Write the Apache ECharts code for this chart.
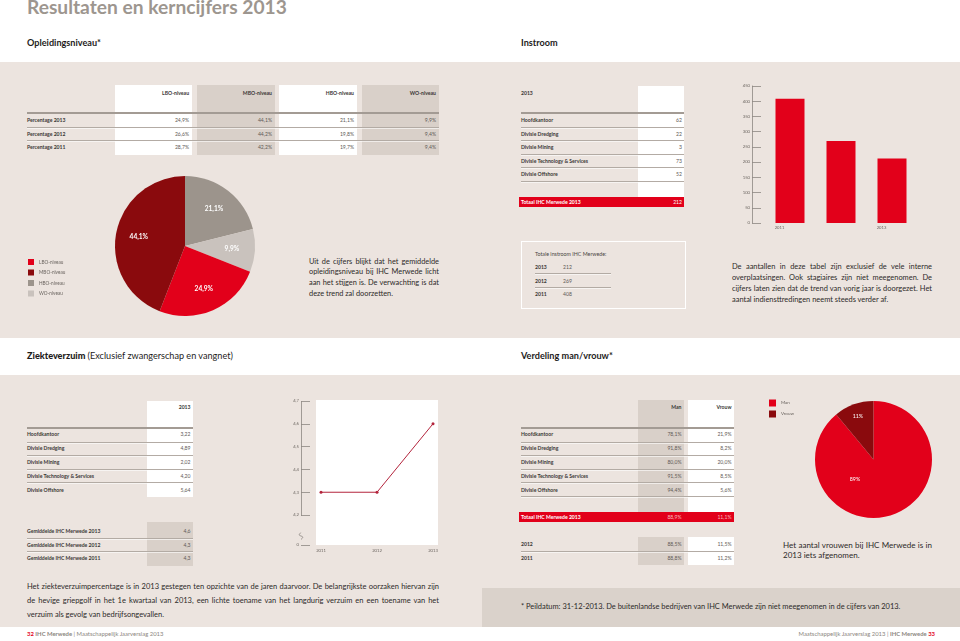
<!DOCTYPE html>
<html>
<head>
<meta charset="utf-8">
<script src="https://cdn.jsdelivr.net/npm/echarts@6.0.0/dist/echarts.min.js"></script>
<style>
  html, body { margin: 0; padding: 0; background: #fff; }
  #page { position: relative; width: 960px; height: 641px; overflow: hidden; font-family: Lato, sans-serif; color: #333; }
  .b { position: absolute; }
  .t { position: absolute; white-space: nowrap; }
  #chart { position: absolute; left: 0; top: 0; width: 960px; height: 641px; z-index: 5; }
</style>
</head>
<body>
<div id="page"><div id="chart"></div></div>
<script>
// ---------- data ----------
const niveaus = ['LBO-niveau', 'MBO-niveau', 'HBO-niveau', 'WO-niveau'];
const percentageRijen = ['Percentage 2013', 'Percentage 2012', 'Percentage 2011'];
const niveau2013 = [24.9, 44.1, 21.1, 9.9];
const niveau2012 = [26.6, 44.2, 19.8, 9.4];
const niveau2011 = [28.7, 42.2, 19.7, 9.4];

const divisies = ['Hoofdkantoor', 'Divisie Dredging', 'Divisie Mining', 'Divisie Technology & Services', 'Divisie Offshore'];
const instroomDivisie = [62, 22, 3, 73, 52];
const instroomTotaal = 212;
const instroomJaren = ['2011', '2012', '2013'];
const instroomAantal = [408, 269, 212];

const verzuimDivisie = [3.22, 4.89, 2.02, 4.20, 5.64];
const gemiddeldeRijen = ['Gemiddelde IHC Merwede 2013', 'Gemiddelde IHC Merwede 2012', 'Gemiddelde IHC Merwede 2011'];
const gemiddeldeVerzuim = [4.6, 4.3, 4.3];
const verzuimJaren = ['2011', '2012', '2013'];
const verzuimPerJaar = [4.3, 4.3, 4.6];

const manDivisie = [78.1, 91.8, 80.0, 91.5, 94.4];
const vrouwDivisie = [21.9, 8.2, 20.0, 8.5, 5.6];
const totaalMan = 88.9;
const totaalVrouw = 11.1;
const eerdereJaren = ['2012', '2011'];
const manEerder = [88.5, 88.8];
const vrouwEerder = [11.5, 11.2];
const geslacht = ['Man', 'Vrouw'];
const geslachtPct = [89, 11];

// ---------- colours ----------
const RED = '#e2001a', DARK = '#8a0a0d', GRAY = '#9c948c', LIGHT = '#c9c2bd';
const BEIGE = '#ece4df', COL = '#d9d0c9', AX = '#8d8781', TXT = '#6a645f', VAL = '#5e5955';

const page = document.getElementById('page');
const nr = (v, d) => v.toFixed(d).replace('.', ',');

function el(cls, parent) {
  const d = document.createElement('div');
  if (cls) d.className = cls;
  (parent || page).appendChild(d);
  return d;
}
function box(x1, y1, x2, y2, bg, extra) {
  const d = el('b');
  Object.assign(d.style, { left: x1 + 'px', top: y1 + 'px', width: (x2 - x1) + 'px', height: (y2 - y1) + 'px', background: bg || 'transparent' });
  if (extra) Object.assign(d.style, extra);
  return d;
}
function rule(x1, x2, y, head) {
  if (head) box(x1, y - 1, x2, y + 0.6, '#a39b94');
  else { box(x1, y - 0.5, x2, y + 0.5, '#b3aba4'); box(x1, y + 0.5, x2, y + 1.2, 'rgba(255,255,255,0.6)'); }
}
function t(x, y, s, o) {
  o = o || {};
  const d = el('t');
  if (o.html) d.innerHTML = s; else d.textContent = s;
  const fs = o.fs || 5.1;
  Object.assign(d.style, {
    top: (y - 5) + 'px', height: '10px', lineHeight: '10px', fontSize: fs + 'px',
    fontWeight: o.b ? '700' : '400', color: o.c || (o.b ? '#3a3735' : VAL)
  });
  if (o.r) { d.style.left = (x - 400) + 'px'; d.style.width = '400px'; d.style.textAlign = 'right'; }
  else d.style.left = x + 'px';
  return d;
}
const meas = el('t');
meas.style.cssText = 'position:absolute;visibility:hidden;white-space:nowrap;left:-2000px;top:0;font-family:Lato';
function natW(s, fs, w) {
  meas.style.fontSize = fs + 'px'; meas.style.fontWeight = w || 400; meas.textContent = s;
  return meas.getBoundingClientRect().width;
}
function para(x, y, w, lh, lines, fs, lastJust) {
  let size = fs;
  lines.forEach((l, i) => {
    const nw = natW(l, fs);
    if ((i < lines.length - 1 || lastJust || nw > w) && nw > w * 0.985) size = Math.min(size, fs * w * 0.985 / nw);
  });
  const p = el('t');
  Object.assign(p.style, { left: x + 'px', top: (y - lh / 2) + 'px', width: w + 'px', fontSize: size + 'px', lineHeight: lh + 'px', whiteSpace: 'normal', color: '#2c2a29' });
  lines.forEach((l, i) => {
    const d = el('', p);
    d.textContent = l;
    d.style.textAlign = 'justify';
    d.style.textAlignLast = (i < lines.length - 1 || lastJust) ? 'justify' : 'left';
  });
}

// ---------- backgrounds ----------
box(0, 62, 960, 338, BEIGE);
box(0, 375, 960, 627, BEIGE);
box(482, 588, 960, 627, '#dad2cb');

// ---------- headings ----------
const titleTxt = 'Resultaten en kerncijfers 2013';
const tfs = 19.5 * 260 / natW(titleTxt, 19.5, 700);
const title = t(27, 7, titleTxt, { b: true, fs: tfs, c: '#9d968f' });
title.style.top = '-5px'; title.style.height = '24px'; title.style.lineHeight = '24px';
const hfs = 9.3 * 74 / natW('Opleidingsniveau*', 9.3, 700);
t(27, 43, 'Opleidingsniveau*', { b: true, fs: hfs, c: '#1e1c1b' });
t(521, 43, 'Instroom', { b: true, fs: hfs, c: '#1e1c1b' });
t(27, 356, '<b>Ziekteverzuim</b> <span style="font-weight:400">(Exclusief zwangerschap en vangnet)</span>', { html: true, b: true, fs: hfs, c: '#1e1c1b' });
t(521, 356, 'Verdeling man/vrouw*', { b: true, fs: hfs, c: '#1e1c1b' });

// ---------- opleidingsniveau table ----------
const oplCols = [[115, 192], [197, 275], [279, 357], [362, 439]];
oplCols.forEach((c, i) => box(c[0], 85, c[1], 155, i % 2 ? COL : '#fff'));
rule(27, 439, 113, true); rule(27, 439, 127); rule(27, 439, 140);
niveaus.forEach((n, i) => t(oplCols[i][1] - 3, 93, n, { b: true, r: true }));
[niveau2013, niveau2012, niveau2011].forEach((row, r) => {
  const y = [120, 133.5, 147][r];
  t(27, y, percentageRijen[r], { b: true });
  row.forEach((v, i) => t(oplCols[i][1] - 3, y, nr(v, 1) + '%', { r: true }));
});
para(309, 262, 130, 10.7, [
  'Uit de cijfers blijkt dat het gemiddelde',
  'opleidingsniveau bij IHC Merwede licht',
  'aan het stijgen is. De verwachting is dat',
  'deze trend zal doorzetten.'
], 8);

// ---------- instroom table ----------
const divY = [120, 133.5, 147, 161, 174];
const divRules = [127, 140, 154, 167, 181];
box(638, 86, 684, 197, '#fff');
t(521, 93, '2013', { b: true });
rule(521, 684, 113, true);
divRules.forEach(y => rule(521, 684, y));
divisies.forEach((d, i) => { t(521, divY[i], d, { b: true }); t(682, divY[i], String(instroomDivisie[i]), { r: true }); });
box(519, 197, 684, 207, RED);
t(521, 202, 'Totaal IHC Merwede 2013', { b: true, c: '#fff' });
t(682, 202, String(instroomTotaal), { r: true, c: '#fff' });

box(521, 241, 686, 309, 'transparent', { border: '1px solid #fff', boxSizing: 'border-box' });
t(535, 254, 'Totale instroom IHC Merwede:', { fs: 5.3, c: '#4a4643' });
[2, 1, 0].forEach((k, i) => {
  const y = [267, 281, 294][i];
  t(535, y, instroomJaren[k], { b: true });
  t(563, y, String(instroomAantal[k]));
});
rule(535, 611, 273); rule(535, 611, 287);
para(732, 266, 200, 11, [
  'De aantallen in deze tabel zijn exclusief de vele interne',
  'overplaatsingen. Ook stagiaires zijn niet meegenomen. De',
  'cijfers laten zien dat de trend van vorig jaar is doorgezet. Het',
  'aantal indiensttredingen neemt steeds verder af.'
], 8);

// ---------- ziekteverzuim tables ----------
const zY = [434, 448, 462, 476, 489.5];
box(147, 401, 193, 497, '#fff');
t(190.5, 407, '2013', { b: true, r: true });
rule(27, 193, 428, true);
[442, 455, 469, 482].forEach(y => rule(27, 193, y));
divisies.forEach((d, i) => { t(27, zY[i], d, { b: true }); t(190.5, zY[i], nr(verzuimDivisie[i], 2), { r: true }); });
box(147, 522, 193, 566, COL);
rule(27, 193, 538); rule(27, 193, 551);
gemiddeldeRijen.forEach((g, i) => {
  const y = [531, 545, 558][i];
  t(27, y, g, { b: true });
  t(190.5, y, nr(gemiddeldeVerzuim[i], 1), { r: true });
});
box(316, 400, 438, 545, '#fff');
para(27, 587, 412, 14.2, [
  'Het ziekteverzuimpercentage is in 2013 gestegen ten opzichte van de jaren daarvoor. De belangrijkste oorzaken hiervan zijn',
  'de hevige griepgolf in het 1e kwartaal van 2013, een lichte toename van het langdurig verzuim en een toename van het',
  'verzuim als gevolg van bedrijfsongevallen.'
], 8.5);

// ---------- man / vrouw tables ----------
box(638, 400, 684, 512, COL);
box(688, 400, 734, 512, '#fff');
t(681.5, 407, 'Man', { b: true, r: true });
t(731.5, 407, 'Vrouw', { b: true, r: true });
rule(521, 734, 428, true);
[442, 455, 469, 482, 496].forEach(y => rule(521, 734, y));
divisies.forEach((d, i) => {
  t(521, zY[i], d, { b: true });
  t(681.5, zY[i], nr(manDivisie[i], 1) + '%', { r: true });
  t(731.5, zY[i], nr(vrouwDivisie[i], 1) + '%', { r: true });
});
box(519, 512, 734, 521.5, RED);
t(521, 517, 'Totaal IHC Merwede 2013', { b: true, c: '#fff' });
t(681.5, 517, nr(totaalMan, 1) + '%', { r: true, c: '#f6b9bd' });
t(731.5, 517, nr(totaalVrouw, 1) + '%', { r: true, c: '#f6b9bd' });
box(638, 537, 684, 565, COL);
box(688, 537, 734, 565, '#fff');
rule(521, 734, 551);
eerdereJaren.forEach((j, i) => {
  const y = [544, 557.5][i];
  t(521, y, j, { b: true });
  t(681.5, y, nr(manEerder[i], 1) + '%', { r: true });
  t(731.5, y, nr(vrouwEerder[i], 1) + '%', { r: true });
});
para(783, 545, 149, 10.3, [
  'Het aantal vrouwen bij IHC Merwede is in',
  '2013 iets afgenomen.'
], 8.4);

// ---------- footnote & footer ----------
const fn = '* Peildatum: 31-12-2013. De buitenlandse bedrijven van IHC Merwede zijn niet meegenomen in de cijfers van 2013.';
t(521, 607, fn, { fs: 8 * 380 / natW(fn, 8), c: '#2c2a29' });
t(27, 634, '<b style="color:#e2001a">32</b> <b>IHC Merwede</b> | Maatschappelijk Jaarverslag 2013', { html: true, fs: 5.9, c: '#8c8680' });
t(935, 634, 'Maatschappelijk Jaarverslag 2013 | <b>IHC Merwede</b> <b style="color:#e2001a">33</b>', { html: true, r: true, fs: 5.9, c: '#8c8680' });

// ---------- charts ----------
const niveauKleur = [RED, DARK, GRAY, LIGHT];
const pieOrder = [2, 3, 0, 1]; // HBO, WO, LBO, MBO clockwise from the top
const niveauPie = pieOrder.map(i => ({ name: niveaus[i], value: niveau2013[i], itemStyle: { color: niveauKleur[i] } }));
const geslachtKleur = [RED, DARK];
const geslachtPie = geslacht.map((g, i) => ({ name: g, value: geslachtPct[i], itemStyle: { color: geslachtKleur[i] } }));
// invisible copies of the slices that only carry labels (shown for the indices given)
const labelOnly = (d, show) => d.map((x, i) => ({
  name: x.name, value: x.value, itemStyle: { color: 'rgba(0,0,0,0)' }, label: { show: show.indexOf(i) >= 0 }
}));

const legendBase = {
  orient: 'vertical', icon: 'rect', padding: 0, selectedMode: false,
  textStyle: { fontSize: 4.7, color: TXT }
};

function buildOption(useBreak) {
  const lineY = {
    gridIndex: 1, type: 'value', offset: 20,
    axisLine: { show: true, lineStyle: { color: AX, width: 0.8 } },
    axisTick: { show: true, inside: true, length: 9, lineStyle: { color: AX, width: 0.8 } },
    splitLine: { show: false },
    axisLabel: { fontSize: 4.2, color: TXT, margin: 2 }
  };
  if (useBreak) {
    Object.assign(lineY, {
      min: 0, max: 4.7, interval: 0.1,
      breaks: [{ start: 0, end: 4.2, gap: '20.8%' }],
      breakArea: { show: false }
    });
    lineY.axisLabel.formatter = v => (v > 0.05 && v < 4.15 ? '' : (v < 0.05 ? '0' : nr(v, 1)));
  } else {
    Object.assign(lineY, { min: 4.1, max: 4.7, interval: 0.1 });
    lineY.axisLabel.formatter = v => (v < 4.15 ? '0' : nr(v, 1));
  }
  const gLabel = { position: 'inside', color: '#fff', fontSize: 5.3, formatter: p => p.value + '%' };
  return {
    animation: false,
    textStyle: { fontFamily: 'Lato' },
    legend: [
      Object.assign({}, legendBase, { data: niveaus, left: 28, top: 259, itemWidth: 6, itemHeight: 6, itemGap: 4.5 }),
      Object.assign({}, legendBase, { data: geslacht, left: 769, top: 399.5, itemWidth: 7, itemHeight: 7, itemGap: 4, textStyle: { fontSize: 4.5, color: TXT } })
    ],
    grid: [
      { left: 764.5, top: 86, width: 153, height: 137 },
      { left: 321, top: 401, width: 112, height: 144 }
    ],
    xAxis: [
      {
        gridIndex: 0, type: 'category', data: instroomJaren,
        axisLine: { show: false }, axisTick: { show: false },
        axisLabel: {
          margin: 3, formatter: v => '{a|' + v + '}{s| }',
          rich: { a: { fontSize: 4.2, color: TXT }, s: { width: 21, fontSize: 4.2 } }
        }
      },
      {
        gridIndex: 1, type: 'category', data: verzuimJaren, boundaryGap: false,
        axisLine: { show: false }, axisTick: { show: false },
        axisLabel: { fontSize: 4.2, color: TXT, margin: 4 }
      }
    ],
    yAxis: [
      {
        gridIndex: 0, type: 'value', min: 0, max: 450, interval: 50, offset: 12.5,
        axisLine: { show: true, lineStyle: { color: AX, width: 0.8 } },
        axisTick: { show: true, inside: true, length: 9, lineStyle: { color: AX, width: 0.8 } },
        splitLine: { show: false },
        axisLabel: { fontSize: 4.2, color: TXT, margin: 2 }
      },
      lineY
    ],
    series: [
      { type: 'bar', xAxisIndex: 0, yAxisIndex: 0, data: instroomAantal, barWidth: 29, itemStyle: { color: RED }, silent: true },
      {
        type: 'line', xAxisIndex: 1, yAxisIndex: 1, data: verzuimPerJaar, symbol: 'circle', symbolSize: 3,
        lineStyle: { color: '#b3243c', width: 1 }, itemStyle: { color: '#b3243c' }, silent: true
      },
      {
        type: 'pie', center: [185, 246], radius: [0, 70], startAngle: 90, clockwise: true,
        data: niveauPie, label: { show: false }, labelLine: { show: false }, silent: true
      },
      {
        type: 'pie', center: [873.5, 459.5], radius: [0, 58.5], startAngle: 90, clockwise: true,
        data: geslachtPie, label: { show: false }, labelLine: { show: false }, silent: true
      },
      {
        type: 'pie', center: [185, 246], radius: [0, 88], startAngle: 90, clockwise: true,
        data: labelOnly(niveauPie, [0, 1, 2, 3]), silent: true, labelLine: { show: false },
        label: { position: 'inside', color: '#fff', fontWeight: 'bold', fontSize: 6.6, formatter: p => nr(p.value, 1) + '%' }
      },
      {
        type: 'pie', center: [873.5, 459.5], radius: [0, 86], startAngle: 90, clockwise: true,
        data: labelOnly(geslachtPie, [1]), silent: true, labelLine: { show: false }, label: gLabel
      },
      {
        // the 89% label sits lower left in the original, so this copy is turned
        type: 'pie', center: [873.5, 459.5], radius: [0, 48], startAngle: 26.9, clockwise: true,
        data: labelOnly(geslachtPie, [0]), silent: true, labelLine: { show: false }, label: gLabel
      }
    ]
  };
}

let chart = echarts.init(document.getElementById('chart'), null, { renderer: 'canvas' });
let broken = true;
try {
  chart.setOption(buildOption(true));
} catch (e) {
  broken = false;
  chart.dispose();
  chart = echarts.init(document.getElementById('chart'), null, { renderer: 'canvas' });
  chart.setOption(buildOption(false));
}

// small break mark on the verzuim axis, placed from the axis scale
const yTop = chart.convertToPixel({ yAxisIndex: 1 }, 4.2);
const yBot = chart.convertToPixel({ yAxisIndex: 1 }, broken ? 0 : 4.1);
const axX = 301;
const ym = yBot - (yBot - yTop) * 0.3;
chart.setOption({
  graphic: [
    { type: 'rect', shape: { x: axX - 2, y: ym - 3, width: 4, height: 6 }, style: { fill: BEIGE }, silent: true, z: 50 },
    {
      type: 'polyline', silent: true, z: 51,
      shape: { points: [[axX, ym - 3.5], [axX - 1.8, ym - 1], [axX + 1.8, ym + 1], [axX, ym + 3.5]], smooth: 0.4 },
      style: { stroke: AX, lineWidth: 0.8, fill: null }
    }
  ]
});
</script>
</body>
</html>
